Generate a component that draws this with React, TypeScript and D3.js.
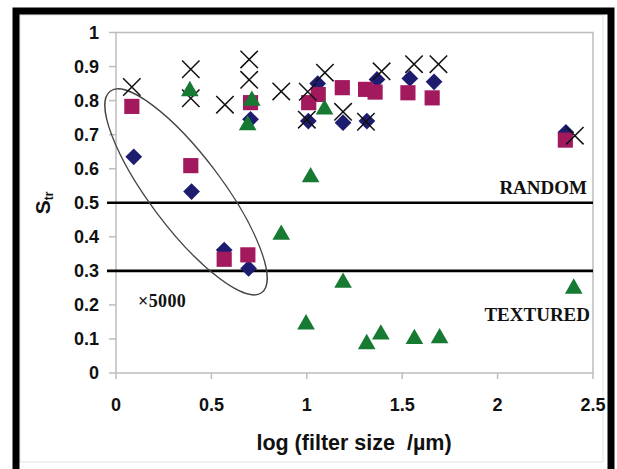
import React from 'react';
import * as d3 from 'd3';

// log(filter size / µm) vs Str
const diamonds: [number, number][] = [
  [0.093, 0.635], [0.396, 0.533], [0.567, 0.361], [0.695, 0.307], [0.705, 0.745],
  [1.008, 0.74], [1.057, 0.85], [1.19, 0.735], [1.315, 0.74], [1.368, 0.862],
  [1.54, 0.865], [1.667, 0.855], [2.358, 0.707],
];
const squares: [number, number][] = [
  [0.083, 0.783], [0.392, 0.609], [0.567, 0.334], [0.691, 0.347], [0.705, 0.794],
  [1.01, 0.794], [1.06, 0.818], [1.186, 0.838], [1.308, 0.833], [1.358, 0.825],
  [1.53, 0.823], [1.657, 0.808], [2.355, 0.684],
];
const triangles: [number, number][] = [
  [0.387, 0.828], [0.712, 0.8], [0.69, 0.728], [1.02, 0.575], [1.093, 0.774],
  [0.866, 0.406], [1.19, 0.265], [0.996, 0.143], [1.314, 0.085], [1.388, 0.113],
  [1.564, 0.1], [1.696, 0.102], [2.399, 0.248],
];
const crosses: [number, number][] = [
  [0.083, 0.84], [0.392, 0.892], [0.392, 0.807], [0.571, 0.788], [0.698, 0.921],
  [0.698, 0.861], [0.866, 0.827], [1.005, 0.826], [1.0, 0.744], [1.095, 0.882],
  [1.19, 0.767], [1.31, 0.738], [1.392, 0.886], [1.562, 0.907], [1.69, 0.907],
  [2.405, 0.697],
];

const xTicks = [0, 0.5, 1, 1.5, 2, 2.5];
const yTicks = [0, 0.1, 0.2, 0.3, 0.4, 0.5, 0.6, 0.7, 0.8, 0.9, 1];
const thresholds = [0.5, 0.3];
const regionLabels = [
  { text: 'RANDOM', y: 0.525 },
  { text: 'TEXTURED', y: 0.153 },
];
const ellipseCenter: [number, number] = [0.367, 0.532];

const W = 617;
const H = 469;

export default function App() {
  const x = d3.scaleLinear().domain([0, 2.5]).range([116, 593]);
  const y = d3.scaleLinear().domain([0, 1]).range([373, 32.5]);

  const sym = (type: d3.SymbolType, size: number) => d3.symbol().type(type).size(size)() as string;
  const diamondPath = sym(d3.symbolSquare, 140);
  const squarePath = sym(d3.symbolSquare, 230);
  const trianglePath = sym(d3.symbolTriangle, 135);
  const crossPath = sym(d3.symbolTimes, 200);

  const tickFont = '"Liberation Sans", Arial, sans-serif';
  const serif = '"Liberation Serif", "Times New Roman", serif';

  return (
    <svg width={W} height={H} style={{ position: 'absolute', left: 0, top: 0, background: '#fff' }}>
      <rect x={0} y={0} width={W} height={H} fill="#fff" />
      {/* outer frame */}
      <rect x={20} y={15} width={583} height={447} fill="none" stroke="#e2e2e2" strokeWidth={1} />
      <rect x={16} y={11} width={595} height={520} fill="none" stroke="#000" strokeWidth={7} />

      {/* plot area */}
      <rect x={x(0)} y={y(1)} width={x(2.5) - x(0)} height={y(0) - y(1)} fill="none" stroke="#bdbdbd" strokeWidth={1.5} />

      {yTicks.map((t) => (
        <g key={'y' + t}>
          <line x1={x(0) - 7} x2={x(0)} y1={y(t)} y2={y(t)} stroke="#bdbdbd" strokeWidth={1.5} />
          <text x={99} y={y(t)} dy="0.36em" textAnchor="end" fontFamily={tickFont} fontWeight="bold" fontSize={18} fill="#111">
            {d3.format('')(t)}
          </text>
        </g>
      ))}
      {xTicks.map((t) => (
        <g key={'x' + t}>
          <line x1={x(t)} x2={x(t)} y1={y(0)} y2={y(0) + 6} stroke="#bdbdbd" strokeWidth={1.5} />
          <text x={x(t)} y={411} textAnchor="middle" fontFamily={tickFont} fontWeight="bold" fontSize={18} fill="#111">
            {d3.format('')(t)}
          </text>
        </g>
      ))}

      {/* threshold lines */}
      {thresholds.map((t) => (
        <line key={'th' + t} x1={107} x2={x(2.5)} y1={y(t)} y2={y(t)} stroke="#000" strokeWidth={2.6} />
      ))}

      {regionLabels.map((l, i) => (
        <text key={l.text} x={i === 0 ? 587 : 590} y={y(l.y)} textAnchor="end" fontFamily={serif} fontWeight="bold" fontSize={19} fill="#111">
          {l.text}
        </text>
      ))}
      <text x={138} y={307} fontFamily={serif} fontWeight="bold" fontSize={18} letterSpacing={0.4} fill="#111">×5000</text>

      {/* circled group */}
      <ellipse
        cx={0}
        cy={0}
        rx={126}
        ry={36}
        fill="none"
        stroke="#444"
        strokeWidth={1.3}
        transform={`translate(${x(ellipseCenter[0])},${y(ellipseCenter[1])}) rotate(53)`}
      />

      {diamonds.map(([a, b], i) => (
        <path key={'d' + i} d={diamondPath} transform={`translate(${x(a)},${y(b)}) rotate(45)`} fill="#1d1c6e" />
      ))}
      {squares.map(([a, b], i) => (
        <path key={'s' + i} d={squarePath} transform={`translate(${x(a)},${y(b)})`} fill="#a3195e" />
      ))}
      {crosses.map(([a, b], i) => (
        <path key={'c' + i} d={crossPath} transform={`translate(${x(a)},${y(b)})`} fill="none" stroke="#111" strokeWidth={1.5} />
      ))}
      {triangles.map(([a, b], i) => (
        <path key={'t' + i} d={trianglePath} transform={`translate(${x(a)},${y(b)})`} fill="#167a33" />
      ))}

      {/* axis titles */}
      <text x={354} y={450} textAnchor="middle" fontFamily={tickFont} fontWeight="bold" fontSize={21.5} fill="#111">
        {'log (filter size \u00a0/µm)'}
      </text>
      <text transform="translate(50,203) rotate(-90)" textAnchor="middle" fontFamily={tickFont} fontWeight="bold" fontSize={21} fill="#111">
        <tspan>S</tspan>
        <tspan fontSize={12} dy={3}>tr</tspan>
      </text>
    </svg>
  );
}
